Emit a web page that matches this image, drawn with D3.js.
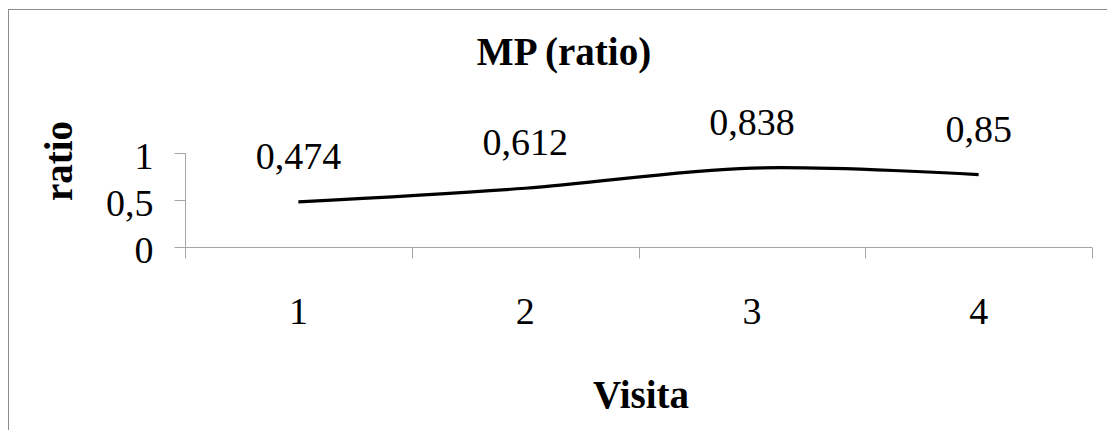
<!DOCTYPE html>
<html>
    <head>
        <title>MP (ratio)</title>
        <script src="https://d3js.org/d3.v7.min.js"></script>
        <style>
            body { margin: 0; background: white; }
            text { font-family: 'Liberation Serif', 'Times New Roman', serif; fill: black; }
            .big { font-size: 38px; }
            .bold { font-size: 39px; font-weight: bold; }
        </style>
    </head>
    <body>
        <svg id='canvas' width=1107 height=430></svg>
        <script>
            // data
            const visits = ['1', '2', '3', '4']
            const ratio = [0.48, 0.625, 0.84, 0.77]          // where the line sits
            const pointLabels = ['0,474', '0,612', '0,838', '0,85']  // labels as printed
            const yTicks = [0, 0.5, 1]

            const axisColor = '#a6a6a6'

            const svg = d3.select('#canvas')

            // outer chart border (cut off at the right and bottom)
            svg.append('rect')
                .attr('x', 8.5).attr('y', 9.5)
                .attr('width', 1300).attr('height', 600)
                .attr('fill', 'none')
                .attr('stroke', '#8c8c8c')

            const xScale = d3.scaleBand().domain(visits).range([185, 1092]).padding(0)
            const yScale = d3.scaleLinear().domain([0, 1]).range([247, 153])

            // y axis
            const yAxis = d3.axisLeft(yScale)
                .tickValues(yTicks)
                .tickSize(11)
                .tickPadding(21)
                .tickFormat(d => String(d).replace('.', ','))
            const gy = svg.append('g')
                .attr('transform', 'translate(185.5, 0)')
                .call(yAxis)
            gy.select('.domain').remove()
            gy.selectAll('line').attr('stroke', axisColor)
            gy.selectAll('text').attr('class', 'big').attr('dy', '0.4em').attr('font-size', null).attr('font-family', null)
            gy.append('line')
                .attr('x1', 0).attr('x2', 0)
                .attr('y1', yScale(1)).attr('y2', yScale(0) + 11)
                .attr('stroke', axisColor)

            // x axis: line, boundary ticks, centered labels
            const gx = svg.append('g').attr('transform', `translate(0, ${yScale(0) + 0.5})`)
            gx.append('line')
                .attr('x1', 185).attr('x2', xScale.range()[1])
                .attr('stroke', axisColor)
            const bounds = visits.map(v => xScale(v)).concat([xScale.range()[1]])
            gx.selectAll('.xtick').data(bounds).enter().append('line')
                .attr('x1', d => Math.round(d) + 0.5).attr('x2', d => Math.round(d) + 0.5)
                .attr('y1', 0).attr('y2', 11)
                .attr('stroke', axisColor)
            gx.selectAll('.xlab').data(visits).enter().append('text')
                .attr('class', 'big')
                .attr('x', d => xScale(d) + xScale.bandwidth() / 2)
                .attr('y', 76)
                .attr('text-anchor', 'middle')
                .text(d => d)

            // the series
            const line = d3.line()
                .x((d, i) => xScale(visits[i]) + xScale.bandwidth() / 2)
                .y(d => yScale(d))
                .curve(d3.curveCatmullRom.alpha(0.5))
            svg.append('path')
                .datum(ratio)
                .attr('d', line)
                .attr('fill', 'none')
                .attr('stroke', 'black')
                .attr('stroke-width', 3.2)

            svg.selectAll('.plabel').data(ratio).enter().append('text')
                .attr('class', 'big')
                .attr('x', (d, i) => xScale(visits[i]) + xScale.bandwidth() / 2)
                .attr('y', d => yScale(d) - 33)
                .attr('text-anchor', 'middle')
                .text((d, i) => pointLabels[i])

            // titles
            svg.append('text').attr('class', 'bold')
                .attr('x', 564).attr('y', 65)
                .attr('text-anchor', 'middle')
                .text('MP (ratio)')

            svg.append('text').attr('class', 'bold')
                .attr('x', 641).attr('y', 408)
                .attr('text-anchor', 'middle')
                .text('Visita')

            svg.append('text').attr('class', 'bold')
                .attr('transform', 'translate(72, 161) rotate(-90)')
                .attr('text-anchor', 'middle')
                .text('ratio')
        </script>
    </body>
</html>
